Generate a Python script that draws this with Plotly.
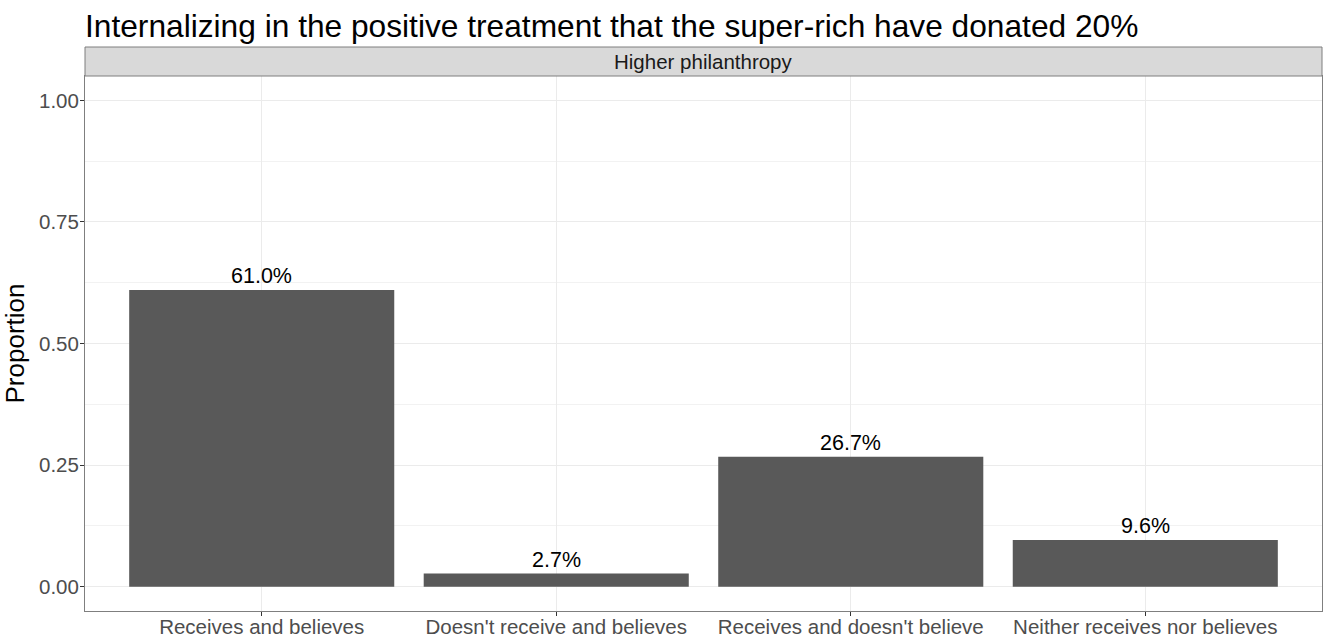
import plotly.graph_objects as go

# Data
categories = [
    "Receives and believes",
    "Doesn't receive and believes",
    "Receives and doesn't believe",
    "Neither receives nor believes",
]
proportions = [0.610, 0.027, 0.267, 0.096]
labels = [f"{v * 100:.1f}%" for v in proportions]
y_ticks = [0.0, 0.25, 0.5, 0.75, 1.0]
y_tick_labels = ["0.00", "0.25", "0.50", "0.75", "1.00"]
facet_label = "Higher philanthropy"
title_text = "Internalizing in the positive treatment that the super-rich have donated 20%"

W, H = 1330, 639
M_L, M_R, M_T, M_B = 85, 8, 76, 28
STRIP_PX = 29
plot_h = H - M_T - M_B

FONT = "Liberation Sans, Arial, sans-serif"

fig = go.Figure()
fig.add_trace(go.Bar(
    x=categories,
    y=proportions,
    width=0.9,
    marker=dict(color="#595959", line=dict(width=0)),
    hoverinfo="x+y",
    showlegend=False,
))

# Value labels above bars
for cat, v, lab in zip(categories, proportions, labels):
    fig.add_annotation(
        x=cat, y=v, text=lab, showarrow=False,
        xref="x", yref="y", yanchor="bottom", yshift=0,
        font=dict(family=FONT, size=21.5, color="#000000"),
    )

# Facet strip
strip_top = 1 + STRIP_PX / plot_h
fig.add_shape(
    type="rect", xref="paper", yref="paper",
    x0=0, x1=1, y0=1, y1=strip_top,
    fillcolor="#D9D9D9", line=dict(color="#7F7F7F", width=1),
    layer="above",
)
fig.add_annotation(
    xref="paper", yref="paper", x=0.5, y=(1 + strip_top) / 2,
    text=facet_label, showarrow=False, yanchor="middle",
    font=dict(family=FONT, size=20.5, color="#1A1A1A"),
)

fig.update_layout(
    width=W, height=H,
    margin=dict(l=M_L, r=M_R, t=M_T, b=M_B),
    paper_bgcolor="white",
    plot_bgcolor="white",
    title=dict(
        text=title_text,
        xref="paper", x=0, xanchor="left",
        yref="container", y=1 - 26 / H, yanchor="middle",
        font=dict(family=FONT, size=31.7, color="#000000"),
    ),
    xaxis=dict(
        type="category",
        categoryorder="array", categoryarray=categories,
        range=[-0.6, 3.6],
        automargin=False,
        showgrid=True, gridcolor="#EBEBEB", gridwidth=1,
        showline=True, mirror=True, linecolor="#7F7F7F", linewidth=1,
        ticks="outside", ticklen=4, tickcolor="#333333",
        ticklabelstandoff=-7,
        tickfont=dict(family=FONT, size=20.5, color="#4D4D4D"),
        zeroline=False,
    ),
    yaxis=dict(
        range=[-0.05, 1.05],
        automargin=False,
        tickvals=y_ticks, ticktext=y_tick_labels,
        showgrid=True, gridcolor="#EBEBEB", gridwidth=1,
        minor=dict(tickvals=[0.125, 0.375, 0.625, 0.875], showgrid=True,
                   gridcolor="#F2F2F2", gridwidth=1, ticks=""),
        showline=True, mirror=True, linecolor="#7F7F7F", linewidth=1,
        ticks="outside", ticklen=4, tickcolor="#333333",
        ticklabelstandoff=-3,
        tickfont=dict(family=FONT, size=20.5, color="#4D4D4D"),
        zeroline=False,
        title=dict(text="Proportion", standoff=7,
                   font=dict(family=FONT, size=26, color="#000000")),
    ),
    bargap=0.1,
)

fig.write_html("out.html")
